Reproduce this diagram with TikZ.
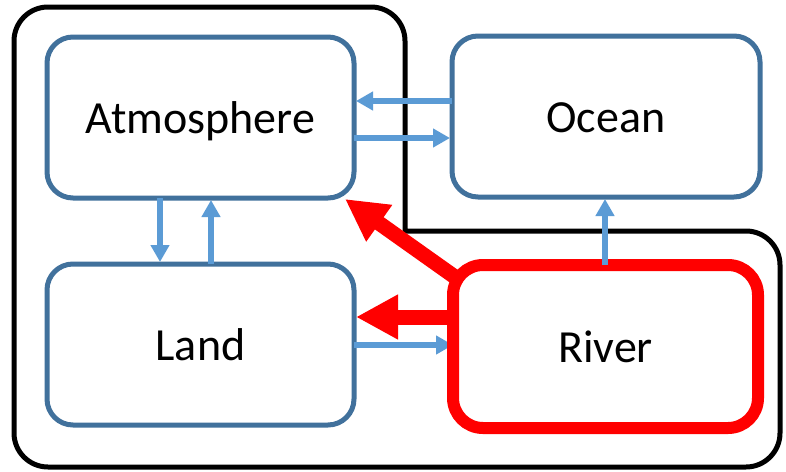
\documentclass[tikz,border=0pt]{standalone}
\usepackage{fontspec}
\setmainfont{Carlito}
\usetikzlibrary{arrows.meta,calc}
\definecolor{boxblue}{RGB}{65,113,156}
\definecolor{arrowblue}{RGB}{91,155,213}
\definecolor{riverred}{RGB}{255,0,0}
\begin{document}
\begin{tikzpicture}[x=1pt,y=-1pt,
  compbox/.style={draw=boxblue, line width=5pt, rounded corners=26pt, fill=white,
    inner sep=0pt, outer sep=0pt, align=center,
    font=\fontsize{46}{55}\selectfont, text height=31pt, text depth=0pt},
  riverbox/.style={compbox, draw=riverred, line width=12pt, rounded corners=30pt},
  bluearrow/.style={draw=arrowblue, line width=6pt, -{Triangle[length=17pt,width=18pt]}},
  redarrow/.style={draw=riverred, line width=15pt, -{Triangle[length=42pt,width=42pt]}},
  outline/.style={draw=black, line width=5pt, rounded corners=34pt, line cap=rect, line join=miter}
]
\useasboundingbox (0,0) rectangle (786,471);
\fill[white] (0,0) rectangle (786,471);

% black outline
\draw[outline] (405,231) -- (780,231) -- (780,467) -- (14,467) -- (14,7) -- (405,7) -- (405,231);

% boxes
\node[compbox, minimum width=307pt, minimum height=161pt] (atm) at (200.5,117.5) {Atmosphere};
\node[compbox, minimum width=308pt, minimum height=161pt] (ocean) at (606,116.5) {Ocean};
\node[compbox, minimum width=307pt, minimum height=161pt] (land) at (200.5,344.5) {Land};

% blue arrows
\draw[bluearrow] (ocean.west |- 0,101) -- ([xshift=2pt]atm.east |- 0,101);
\draw[bluearrow] (atm.east |- 0,138) -- ([xshift=-2pt]ocean.west |- 0,138);
\draw[bluearrow] (atm.south -| 160,0) -- ([yshift=2pt]land.north -| 160,0);
\draw[bluearrow] (land.north -| 211,0) -- ([yshift=-2pt]atm.south -| 211,0);
\draw[bluearrow] (land.east |- 0,345) -- (453,345) coordinate (riverin);

\node[riverbox, minimum width=305pt, minimum height=163pt] (river) at (605.5,346.5) {River};

\draw[bluearrow] (river.north -| 605,0) -- ([yshift=-2pt]ocean.south -| 605,0);

% red arrows
\draw[redarrow] ([xshift=4pt]river.west |- 0,317) -- ([xshift=2pt]land.east |- 0,317);
\draw[redarrow] ($(river.north west)+(9pt,-17pt)$) -- ($(atm.south east)+(-9pt,-1pt)$);
\end{tikzpicture}
\end{document}
